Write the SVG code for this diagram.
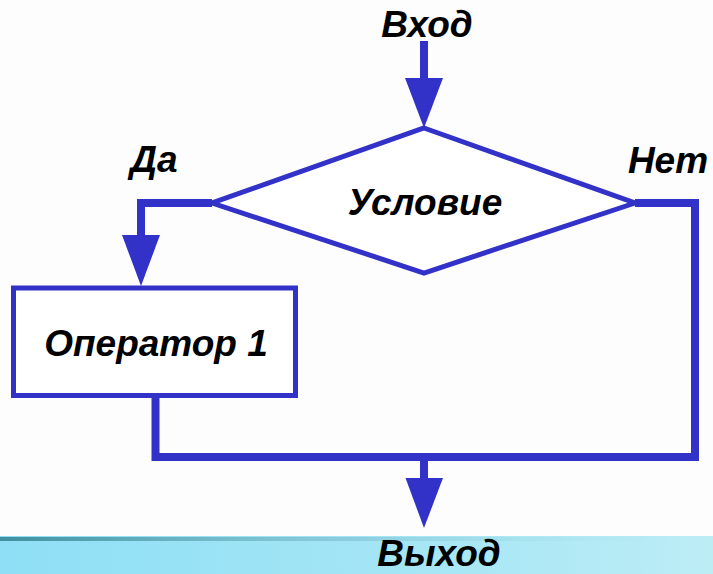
<svg xmlns="http://www.w3.org/2000/svg" width="713" height="574" viewBox="0 0 713 574">
<defs>
<style>
.lbl{font-family:"Liberation Sans",Arial,sans-serif;font-weight:bold;font-style:italic;font-size:37px;fill:#000;}
.ln{fill:none;stroke:#3232c8;stroke-width:8;stroke-linecap:butt;stroke-linejoin:miter;}
.shape{fill:#fff;stroke:#3232c8;stroke-width:5;}
.head{fill:#3232c8;}
</style>
<linearGradient id="band" x1="0" y1="0" x2="1" y2="0">
<stop offset="0" stop-color="#8edff5"/>
<stop offset="0.6" stop-color="#a6e6f5"/>
<stop offset="1" stop-color="#bcedf5"/>
</linearGradient>
<linearGradient id="edge" x1="0" y1="0" x2="1" y2="0">
<stop offset="0" stop-color="#3f8f9f"/>
<stop offset="0.5" stop-color="#7fbfcf" stop-opacity="0.6"/>
<stop offset="1" stop-color="#bcedf5" stop-opacity="0"/>
</linearGradient>
</defs>
<rect x="0" y="0" width="713" height="574" fill="#fdfdfd"/>
<rect x="0" y="536" width="713" height="38" fill="url(#band)"/>
<rect x="0" y="537" width="713" height="4" fill="url(#edge)"/>
<g id="connectors">
<line class="ln" x1="424" y1="41" x2="424" y2="80"/>
<polygon class="head" points="405,78 443,78 424,128"/>
<polyline class="ln" points="212,203 141,203 141,237"/>
<polygon class="head" points="122,235 160,235 141,286"/>
<polyline class="ln" points="635,203 695,203 695,457 155.5,457 155.5,395"/>
<line class="ln" x1="424" y1="457" x2="424" y2="480"/>
<polygon class="head" points="405.5,478 443,478 424,528"/>
</g>
<g id="entry"><text class="lbl" x="427" y="37" text-anchor="middle">Вход</text></g>
<g id="condition">
<polygon class="shape" points="424,128 635,203 424,273 212,203"/>
<text class="lbl" x="425" y="215" text-anchor="middle">Условие</text>
</g>
<g id="yes"><text class="lbl" x="154" y="172" text-anchor="middle">Да</text></g>
<g id="no"><text class="lbl" x="668" y="173" text-anchor="middle">Нет</text></g>
<g id="op1">
<rect class="shape" x="13.5" y="288" width="282" height="107.5"/>
<text class="lbl" x="156" y="356" text-anchor="middle">Оператор 1</text>
</g>
<g id="exit"><text class="lbl" x="439" y="566" text-anchor="middle">Выход</text></g>
</svg>
